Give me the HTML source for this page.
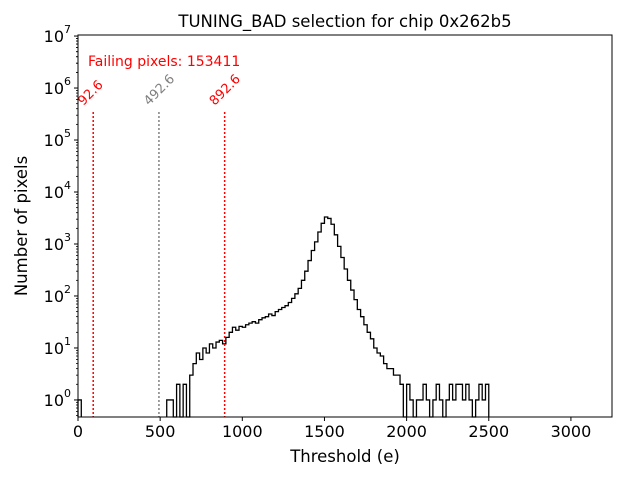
<!DOCTYPE html>
<html><head><meta charset="utf-8"><style>
body{margin:0;background:#fff}
svg text{font-family:"DejaVu Sans","Liberation Sans",sans-serif}
</style></head><body>
<svg id="chart" width="640" height="480" xmlns="http://www.w3.org/2000/svg">
<rect width="640" height="480" fill="#fff"/>
<g id="plot"></g>
</svg>
<script>
const binStart = 540;
const binWidth = 20;
const counts = [1,1,0,2,0,2,0,3,5,8,6,10,8,12,10,13,14,12,16,20,25,22,26,25,28,30,32,30,35,38,40,45,42,50,55,60,65,75,90,110,140,200,300,480,750,1100,1700,2500,3300,3100,2400,1500,900,550,330,200,130,85,55,40,28,20,15,10,8,7,5,4,4,3,3,2,0,2,1,0,1,1,2,1,0,1,2,1,0,1,2,1,2,2,1,2,1,0,1,2,1,2];
const earlyBins = [[0,1]];
const xTicks = [0,500,1000,1500,2000,2500,3000];
const yExps = [0,1,2,3,4,5,6,7];
const cuts = [92.6,492.6,892.6];
const cutLabels = ["92.6","492.6","892.6"];
const cutColors = ["red","grey","red"];

const L=78,R=612,T=35,B=417;
const xMax=3250, yMinLog=Math.log10(0.47), yMaxLog=7.02;
const X=v=>L+(v/xMax)*(R-L);
const Y=v=>{const l=v>0?Math.log10(v):yMinLog;return B-(l-yMinLog)/(yMaxLog-yMinLog)*(B-T);};
const NS="http://www.w3.org/2000/svg";
const g=document.getElementById('plot');
function mk(t,a,p){const e=document.createElementNS(NS,t);for(const k in a)e.setAttribute(k,a[k]);(p||g).appendChild(e);return e;}

let allBins=earlyBins.map(b=>[b[0],b[1]]);
for(let i=0;i<counts.length;i++)allBins.push([binStart+i*binWidth,counts[i]]);
let d="";
let prevEnd=null;
for(const [s,c] of allBins){
  const x0=X(s),x1=X(s+binWidth);
  if(prevEnd===null||Math.abs(prevEnd-s)>0.01){ if(prevEnd!==null)d+=`L${X(prevEnd)},${B}`; d+=`M${x0},${B}`;}
  d+=`L${x0},${Y(c)}L${x1},${Y(c)}`;
  prevEnd=s+binWidth;
}
d+=`L${X(prevEnd)},${B}`;
const hp=mk('path',{d:d,fill:'none',stroke:'#000','stroke-width':1.3});



cuts.forEach((c,i)=>{
  const ln=mk('line',{x1:X(c),x2:X(c),y1:112,y2:B,stroke:cutColors[i],'stroke-width':1.5,'stroke-dasharray':'2,2'});
  
  
  const ax=X(c)-10, ay=106;
  const tx=mk('text',{x:ax,y:ay,fill:cutColors[i],'font-size':13,transform:`rotate(-45 ${ax} ${ay})`});
  tx.textContent=cutLabels[i];
  
  
});

const fr=mk('rect',{x:L,y:T,width:R-L,height:B-T,fill:'none',stroke:'#000','stroke-width':1});



xTicks.forEach(v=>{
  mk('line',{x1:X(v),x2:X(v),y1:B,y2:B+4,stroke:'#000'});
  const t=mk('text',{x:X(v),y:B+20,'font-size':16,'text-anchor':'middle'});
  t.textContent=v;
  
  
});
yExps.forEach(e=>{
  const y=Y(Math.pow(10,e));
  mk('line',{x1:L-4,x2:L,y1:y,y2:y,stroke:'#000'});
  const t=mk('text',{x:L-14,y:y+6,'font-size':16,'text-anchor':'end'});
  t.textContent='10';
  
  
  const s=mk('text',{x:L-14,y:y-3,'font-size':11});
  s.textContent=e;
  for(let m=2;m<10;m++){const v=m*Math.pow(10,e-1);if(v<0.47||v>1e7)continue;const yy=Y(v);mk('line',{x1:L-2,x2:L,y1:yy,y2:yy,stroke:'#000','stroke-width':0.8});}
});
for(let m=2;m<10;m++){const yy=Y(m*1e6);mk('line',{x1:L-2,x2:L,y1:yy,y2:yy,stroke:'#000','stroke-width':0.8});}

function txt(x,y,s,a,name){const t=mk('text',Object.assign({x:x,y:y},a));t.textContent=s;return t;}
txt(345,27,'TUNING_BAD selection for chip 0x262b5',{'font-size':16.5,'text-anchor':'middle'},'chart-title');
txt(345,462,'Threshold (e)',{'font-size':16.5,'text-anchor':'middle'},'x-axis-title');
txt(27,226,'Number of pixels',{'font-size':16.5,'text-anchor':'middle',transform:'rotate(-90 27 226)'},'y-axis-title');
txt(88,66,'Failing pixels: 153411',{'font-size':14,fill:'red'},'failing-pixels-note');
</script>
</body></html>
